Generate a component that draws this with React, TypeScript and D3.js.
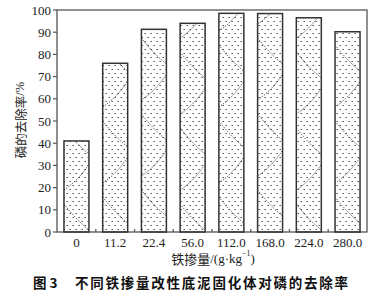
import React from "react";
import * as d3 from "d3";

const categories = ["0", "11.2", "22.4", "56.0", "112.0", "168.0", "224.0", "280.0"];
const removalRates = [41, 76, 91.3, 94, 98.5, 98.4, 96.5, 90.2];
const yTicks = [0, 10, 20, 30, 40, 50, 60, 70, 80, 90, 100];

const W = 385;
const H = 297;
const M = { left: 57, right: 367, top: 10, bottom: 232 };

export default function App() {
  const x = d3
    .scaleBand<string>()
    .domain(categories)
    .range([M.left, M.right])
    .paddingInner(0.355)
    .paddingOuter(0.18);
  const y = d3.scaleLinear().domain([0, 100]).range([M.bottom, M.top]);
  const bw = x.bandwidth();
  const serif = "'Liberation Serif', 'Times New Roman', serif";
  const cjk = "'Noto Sans CJK SC', sans-serif";

  return (
    <svg
      width={W}
      height={H}
      style={{ position: "absolute", left: 0, top: 0, background: "#fff" }}
    >
      <defs>
        <pattern id="dots" patternUnits="userSpaceOnUse" width="6" height="8">
          <rect x="0.5" y="1" width="1.4" height="0.9" fill="#333" />
          <rect x="3.5" y="5" width="1.4" height="0.9" fill="#333" />
        </pattern>
        {categories.map((c, i) => (
          <clipPath id={`clip${i}`} key={c}>
            <rect x={x(c)} y={y(removalRates[i])} width={bw} height={M.bottom - y(removalRates[i])} />
          </clipPath>
        ))}
      </defs>

      {/* frame */}
      <rect
        x={M.left}
        y={M.top}
        width={M.right - M.left}
        height={M.bottom - M.top}
        fill="none"
        stroke="#555"
        strokeWidth={1.3}
      />

      {/* bars */}
      {categories.map((c, i) => {
        const x0 = x(c) as number;
        const yt = y(removalRates[i]);
        const curves: string[] = [];
        for (let k = 0; k < 6; k++) {
          const yy = M.bottom - 10 - k * 38 - (i % 3) * 7;
          if (k % 2 === 0) {
            curves.push(`M${x0},${yy - 18} Q${x0 + bw * 0.5},${yy - 2} ${x0 + bw},${yy + 8}`);
          } else {
            curves.push(`M${x0},${yy + 6} Q${x0 + bw * 0.6},${yy - 4} ${x0 + bw},${yy - 20}`);
          }
        }
        return (
          <g key={c}>
            <rect x={x0} y={yt} width={bw} height={M.bottom - yt} fill="url(#dots)" />
            <g clipPath={`url(#clip${i})`}>
              {curves.map((d, j) => (
                <path
                  key={j}
                  d={d}
                  fill="none"
                  stroke="#333"
                  strokeWidth={1}
                  strokeDasharray="1.2 1.4"
                />
              ))}
            </g>
            <rect
              x={x0}
              y={yt}
              width={bw}
              height={M.bottom - yt}
              fill="none"
              stroke="#333"
              strokeWidth={1.5}
            />
          </g>
        );
      })}

      {/* y axis ticks */}
      {yTicks.map((t) => (
        <g key={t}>
          <line x1={M.left - 4} x2={M.left} y1={y(t)} y2={y(t)} stroke="#555" strokeWidth={1.2} />
          <text
            x={M.left - 6}
            y={y(t)}
            textAnchor="end"
            dominantBaseline="central"
            fontFamily={serif}
            fontSize={13}
            fill="#222"
          >
            {t}
          </text>
        </g>
      ))}

      {/* x axis boundary ticks */}
      {categories.slice(1).map((c) => {
        const xb = (x(c) as number) - (x.step() - bw) / 2;
        return <line key={c} x1={xb} x2={xb} y1={M.bottom} y2={M.bottom - 3} stroke="#555" strokeWidth={1.2} />;
      })}

      {/* x labels */}
      {categories.map((c) => (
        <text
          key={c}
          x={(x(c) as number) + bw / 2}
          y={242}
          textAnchor="middle"
          dominantBaseline="central"
          fontFamily={serif}
          fontSize={13}
          fill="#222"
        >
          {c}
        </text>
      ))}

      {/* x title */}
      <text x={213} y={258} textAnchor="middle" dominantBaseline="central" fontSize={13} fill="#222" fontFamily={serif}>
        <tspan fontFamily={cjk}>铁掺量</tspan>
        <tspan>/(g·kg</tspan>
        <tspan fontSize={8} dy={-5}>−1</tspan>
        <tspan dy={5}>)</tspan>
      </text>

      {/* y title */}
      <text
        transform={`translate(20,120) rotate(-90)`}
        textAnchor="middle"
        dominantBaseline="central"
        fontSize={12.5}
        fill="#222"
      >
        <tspan fontFamily={cjk}>磷的去除率</tspan>
        <tspan fontFamily={serif}>/%</tspan>
      </text>

      {/* caption */}
      <text x={33} y={282} dominantBaseline="central" fontFamily={cjk} fontWeight="bold" fontSize={13.5} fill="#111">
        图 3
      </text>
      <text
        x={75}
        y={282}
        dominantBaseline="central"
        fontFamily={cjk}
        fontWeight="bold"
        fontSize={13.5}
        fill="#111"
        textLength={273}
        lengthAdjust="spacing"
      >
        不同铁掺量改性底泥固化体对磷的去除率
      </text>
    </svg>
  );
}
